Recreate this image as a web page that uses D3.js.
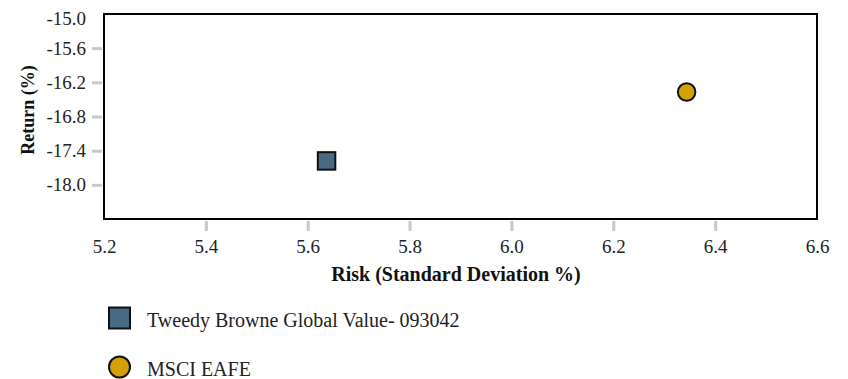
<!DOCTYPE html>
<html><head><meta charset="utf-8">
<script src="https://cdn.jsdelivr.net/npm/d3@7"></script>
<style>body{margin:0;background:#fff}svg{display:block}</style>
</head><body>
<script>
const seriesNames = ["Tweedy Browne Global Value- 093042", "MSCI EAFE"];
const riskValues = [5.637, 6.344];
const returnValues = [-17.58, -16.37];
const seriesColors = ["#496a83", "#d3a005"];
const seriesShapes = ["square", "circle"];
const xTicks = [5.2, 5.4, 5.6, 5.8, 6.0, 6.2, 6.4, 6.6];
const yTicks = [-15.0, -15.6, -16.2, -16.8, -17.4, -18.0];

const FONT = "'Liberation Serif'";
const W = 848, H = 379;
const plot = {left: 104, right: 817, top: 14, bottom: 219};
const svg = d3.select("body").append("svg").attr("width", W).attr("height", H);
const x = d3.scaleLinear().domain([5.2, 6.6]).range([plot.left, plot.right]);
const y = d3.scaleLinear().domain([-18.6, -15.0]).range([plot.bottom, plot.top]);
const fmt = v => d3.format(".1f")(v).replace("\u2212", "-");

// y axis
const gy = svg.append("g").attr("transform", `translate(${plot.left},0)`)
  .call(d3.axisLeft(y).tickValues(yTicks).tickFormat(fmt).tickSize(10).tickPadding(4));
gy.select(".domain").remove();
gy.selectAll(".tick line").attr("stroke", "#c8c8c8").attr("stroke-width", 3)
  .attr("x1", -2).attr("x2", -12)
  .attr("display", d => d === -15.0 ? "none" : null);
gy.selectAll(".tick text").attr("font-size", 19).attr("fill", "#222").attr("x", -18)
  .attr("dy", d => d === -15.0 ? "0.55em" : "0.32em")
  .style("font-family", FONT);

// x axis
const gx = svg.append("g").attr("transform", `translate(0,${plot.bottom})`)
  .call(d3.axisBottom(x).tickValues(xTicks).tickFormat(fmt).tickSize(10));
gx.select(".domain").remove();
gx.selectAll(".tick line").attr("stroke", "#c8c8c8").attr("stroke-width", 3)
  .attr("y1", 2).attr("y2", 12)
  .attr("display", d => (d === 5.2 || d === 6.6) ? "none" : null);
gx.selectAll(".tick text").attr("font-size", 19).attr("fill", "#222")
  .attr("y", 34).attr("dy", null).style("font-family", FONT);

// plot frame
svg.append("rect").attr("x", plot.left).attr("y", plot.top)
  .attr("width", plot.right - plot.left).attr("height", plot.bottom - plot.top)
  .attr("fill", "none").attr("stroke", "#000").attr("stroke-width", 2);

// axis titles
svg.append("text").attr("x", 456).attr("y", 281)
  .attr("text-anchor", "middle").attr("font-size", 20).attr("font-weight", "bold").attr("fill", "#111")
  .style("font-family", FONT)
  .text("Risk (Standard Deviation %)");
svg.append("text").attr("transform", `translate(34,110) rotate(-90)`)
  .attr("text-anchor", "middle").attr("font-size", 18).attr("font-weight", "bold").attr("fill", "#111")
  .style("font-family", FONT)
  .text("Return (%)");

// points
const data = seriesNames.map((n, i) => ({name: n, x: riskValues[i], y: returnValues[i], color: seriesColors[i], shape: seriesShapes[i]}));
function drawMarker(g, d, cx, cy, size) {
  if (d.shape === "square") {
    g.append("rect").attr("x", cx - size / 2).attr("y", cy - size / 2).attr("width", size).attr("height", size)
      .attr("fill", d.color).attr("stroke", "#111").attr("stroke-width", 2);
  } else {
    g.append("circle").attr("cx", cx).attr("cy", cy).attr("r", size / 2)
      .attr("fill", d.color).attr("stroke", "#111").attr("stroke-width", 2);
  }
}
const pg = svg.append("g");
data.forEach(d => drawMarker(pg, d, x(d.x), y(d.y), 17.5));

// legend
const lg = svg.append("g");
data.forEach((d, i) => {
  const cy = 318 + i * 49;
  drawMarker(lg, d, 119.5, cy, 21);
  lg.append("text").attr("x", 147).attr("y", cy + 8.5).attr("font-size", 20).attr("fill", "#222")
    .style("font-family", FONT).text(d.name);
});
</script>
</body></html>
